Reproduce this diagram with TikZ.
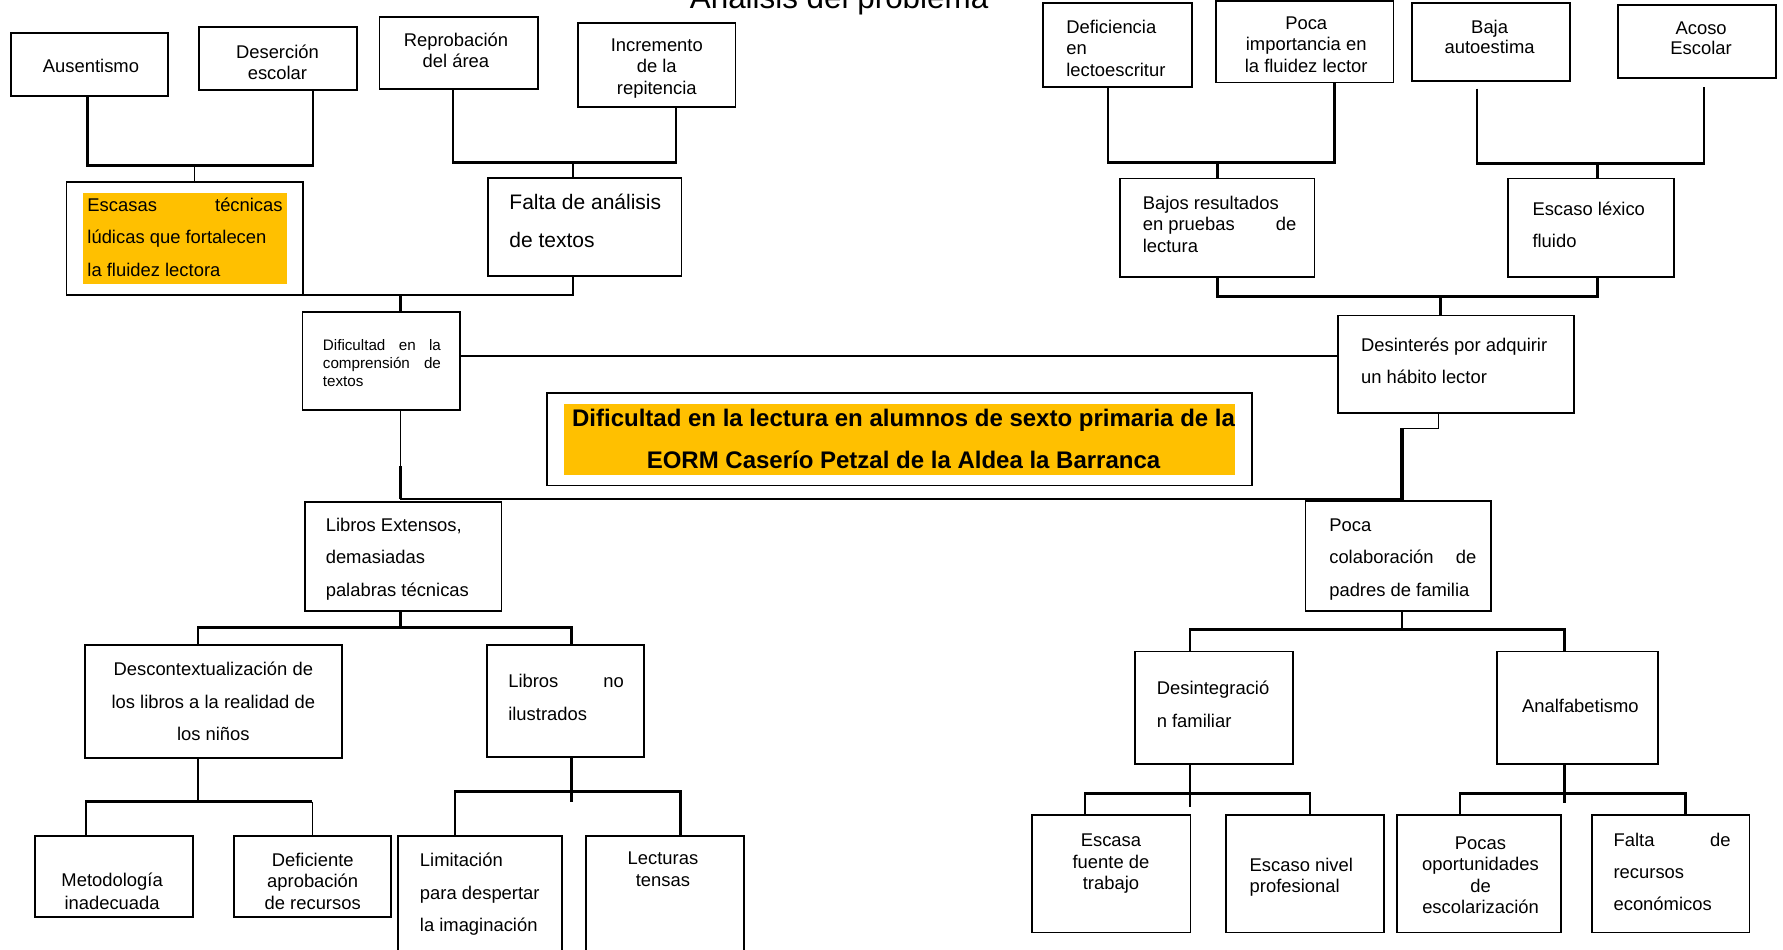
\documentclass[tikz,border=0pt]{standalone}
\usepackage{fontspec}
\setmainfont{Liberation Sans}
\definecolor{gold}{HTML}{FFC000}
\newcommand\fz[2]{\fontsize{#1pt}{#2pt}\selectfont}
\newcommand\jw[2]{\makebox[#1pt][s]{#2}}
\newcommand\jl[2]{\makebox[#1pt][l]{#2}}
\newcommand\bx[5]{%
  \pgfmathsetmacro\bxw{(#4-#2)*0.5686}%
  \pgfmathsetmacro\bxh{(#5-#3)*0.5686}%
  \node[box, minimum width=\bxw pt, minimum height=\bxh pt] (#1) at ({(#2+#4)/2},{(#3+#5)/2}) {};}
\tikzset{
  box/.style={draw, line width=0.9pt, inner sep=0pt, outer sep=0pt},
  conn/.style={line width=1.3pt},
  thinc/.style={line width=0.55pt},
  txt/.style={inner sep=0pt, outer sep=0pt, yshift=-1.6pt, execute at begin node=\strut, execute at end node=\strut},
  wd/.style={yshift=-1.3pt},
  tight/.style={font=\fz{9.2}{10.8}},
  wide/.style={font=\fz{9.2}{16.1}, wd},
}
\begin{document}
\begin{tikzpicture}[x=0.5686pt,y=-0.5686pt]
\useasboundingbox (0,0) rectangle (1568,835);
% orange fills
\fill[gold] (73,170) rectangle (252,249.5);
\fill[gold] (496,355) rectangle (1086.5,417.6);
% boxes
\bx{aus}{9.5}{29.3}{148}{84.2}
\bx{des}{175}{24}{313.8}{78.9}
\bx{rep}{333.8}{14.7}{473}{78.5}
\bx{inc}{508}{20.5}{646.8}{94.4}
\bx{esc}{58.5}{160}{266.6}{259.4}
\bx{fal}{429}{156.3}{599.4}{242.4}
\bx{def}{917.5}{2.4}{1048}{76.8}
\bx{poc}{1069.5}{0.8}{1225.5}{72.5}
\bx{baj}{1241.5}{2.4}{1380.5}{71}
\bx{aco}{1423}{4.7}{1562}{68.3}
\bx{bres}{985}{157}{1156}{243.5}
\bx{esl}{1326}{157}{1472}{243.5}
\bx{dif}{266}{274.6}{404.5}{360.3}
\bx{desi}{1176.5}{277.5}{1384}{363}
\bx{cen}{481}{345.8}{1101}{427}
\bx{lib}{268}{441.5}{441}{537.5}
\bx{pcol}{1148}{440.5}{1311}{537.5}
\bx{dsc}{75}{567.5}{301}{666.6}
\bx{lno}{428}{567.5}{566}{666}
\bx{met}{31}{735}{169.5}{806.7}
\bx{dap}{205.7}{735}{344}{806.7}
\bx{lim}{350}{735}{494}{850}
\bx{lec}{515}{735}{654}{850}
\bx{dsi}{998}{573}{1137}{672}
\bx{ana}{1316.5}{573}{1458}{672}
\bx{esf}{907.5}{717}{1047}{820}
\bx{esn}{1078.5}{717}{1217}{820}
\bx{poo}{1228.5}{717}{1373}{820}
\bx{frc}{1400}{717}{1538.5}{820}
% connectors top-left
\coordinate (j1a) at (77,145.3);
\coordinate (j1b) at (275.3,145.3);
\coordinate (j1c) at (170.7,145.3);
\draw[conn] (aus.south -| j1a) -- (j1a) -- (j1b) -- (des.south -| j1b);
\draw[thinc] (j1c) -- (esc.north -| j1c);
\coordinate (j2a) at (398.3,142.7);
\coordinate (j2b) at (594.6,142.7);
\coordinate (j2c) at (503.8,142.7);
\draw[conn] (rep.south -| j2a) -- (j2a) -- (j2b) -- (inc.south -| j2b);
\draw[conn] (j2c) -- (fal.north -| j2c);
\coordinate (j3a) at (170.7,259.4);
\coordinate (j3b) at (503.8,259.4);
\coordinate (j3c) at (352.2,259.4);
\draw[conn] (j3a) -- (j3b) -- (fal.south -| j3b);
\draw[conn] (j3c) -- (dif.north -| j3c);
% connectors top-right
\coordinate (j4a) at (974.5,142.8);
\coordinate (j4b) at (1173.5,142.8);
\coordinate (j4c) at (1070.5,142.8);
\draw[conn] (def.south -| j4a) -- (j4a) -- (j4b) -- (poc.south -| j4b);
\draw[conn] (j4c) -- (bres.north -| j4c);
\coordinate (j5a) at (1299,143.7);
\coordinate (j5b) at (1498.5,143.7);
\coordinate (j5c) at (1405,143.7);
\coordinate (bajE) at (1299,78);
\coordinate (acoE) at (1498.5,76.5);
\draw[conn] (bajE) -- (j5a) -- (j5b) -- (acoE);
\draw[conn] (j5c) -- (esl.north -| j5c);
\coordinate (j6a) at (1070.5,260.5);
\coordinate (j6b) at (1405,260.5);
\coordinate (j6c) at (1267,260.5);
\draw[conn] (bres.south -| j6a) -- (j6a) -- (j6b) -- (esl.south -| j6b);
\draw[conn] (j6c) -- (desi.north -| j6c);
% middle
\coordinate (hy) at (0,313);
\draw[line width=1pt] (dif.east |- hy) -- (desi.west |- hy);
\coordinate (j7a) at (352.2,439);
\coordinate (j7m) at (352.2,410);
\coordinate (j7b) at (1233,439);
\draw[thinc] (dif.south -| j7a) -- (j7m);
\draw[conn] (j7m) -- (j7a);
\draw[line width=0.75pt] (j7a) -- (j7b);
\coordinate (j8a) at (1265,376.6);
\coordinate (j8b) at (1233,376.6);
\draw[thinc] (desi.south -| j8a) -- (j8a) -- (j8b);
\draw[line width=1.6pt] (j8b) -- (pcol.north -| j8b);
% bottom-left
\coordinate (j9a) at (174,552);
\coordinate (j9b) at (502.5,552);
\coordinate (j9c) at (352,552);
\draw[conn] (lib.south -| j9c) -- (j9c);
\draw[conn] (dsc.north -| j9a) -- (j9a) -- (j9b) -- (lno.north -| j9b);
\coordinate (j10a) at (75.5,705);
\coordinate (j10b) at (274.5,705);
\coordinate (j10c) at (174,705);
\draw[conn] (dsc.south -| j10c) -- (j10c);
\draw[conn] (met.north -| j10a) -- (j10a) -- (j10b);
\draw[thinc] (j10b) -- (dap.north -| j10b);
\coordinate (j11a) at (400,696);
\coordinate (j11b) at (598.5,696);
\coordinate (j11c) at (502.5,705);
\draw[conn] (lno.south -| j11c) -- (j11c);
\draw[conn] (lim.north -| j11a) -- (j11a) -- (j11b) -- (lec.north -| j11b);
% bottom-right
\coordinate (j12a) at (1046.5,553.5);
\coordinate (j12b) at (1376,553.5);
\coordinate (j12c) at (1233,553.5);
\draw[conn] (pcol.south -| j12c) -- (j12c);
\draw[conn] (dsi.north -| j12a) -- (j12a) -- (j12b) -- (ana.north -| j12b);
\coordinate (j13a) at (954,698);
\coordinate (j13b) at (1152,698);
\coordinate (j13c) at (1046.5,709.5);
\draw[conn] (dsi.south -| j13c) -- (j13c);
\draw[conn] (esf.north -| j13a) -- (j13a) -- (j13b) -- (esn.north -| j13b);
\coordinate (j14a) at (1284,698);
\coordinate (j14b) at (1482,698);
\coordinate (j14c) at (1376,706);
\draw[conn] (ana.south -| j14c) -- (j14c);
\draw[conn] (poo.north -| j14a) -- (j14a) -- (j14b) -- (frc.north -| j14b);
% texts
\node[inner sep=0pt, font=\fz{15.7}{18}, anchor=base] (title) at (737.9,7.3) {Análisis del problema};
\node[txt,tight] (t-aus) at (80,57) {Ausentismo};
\node[txt,tight,align=center] (t-des) at (244,54.6) {Deserción\\escolar};
\node[txt,tight,align=center] (t-rep) at (401,44.3) {Reprobación\\del área};
\node[txt,tight,align=center] (t-inc) at (577.6,58.6) {Incremento\\de la\\repitencia};
\node[txt,wide,align=left,anchor=west] (t-esc) at (76.9,207.6) {\jw{97.6}{Escasas técnicas}\\lúdicas que fortalecen\\la fluidez lectora};
\node[txt,wd,font=\fz{10.5}{18.8},align=left,anchor=west] (t-fal) at (448,194) {Falta de análisis\\de textos};
\node[txt,tight,align=left,anchor=west] (t-def) at (937.7,42.5) {Deficiencia\\en\\lectoescritur};
\node[txt,tight,align=center] (t-poc) at (1148.7,39.3) {Poca\\importancia en\\la fluidez lector};
\node[txt,font=\fz{9.2}{10},align=center] (t-baj) at (1310,32.3) {Baja\\autoestima};
\node[txt,font=\fz{9.2}{10},align=center] (t-aco) at (1496,33.7) {Acoso\\Escolar};
\node[txt,tight,align=left,anchor=west] (t-bres) at (1005,197.1) {Bajos resultados\\\jl{76.8}{en pruebas\hfill de}\\lectura};
\node[txt,wd,font=\fz{9.2}{16.3},align=left,anchor=west] (t-esl) at (1347.7,196.7) {Escaso léxico\\fluido};
\node[txt,font=\fz{7.6}{9.2},align=left,anchor=west] (t-dif) at (284,318.8) {\jw{59}{Dificultad en la}\\\jw{59}{comprensión de}\\textos};
\node[txt,wd,font=\fz{9.2}{16.3},align=left,anchor=west] (t-desi) at (1197,316.4) {Desinterés por adquirir\\un hábito lector};
\node[txt,wd,font=\fz{12}{21.2}\bfseries,align=center] (t-cen) at (794.6,386.5) {Dificultad en la lectura en alumnos de sexto primaria de la\\EORM Caserío Petzal de la Aldea la Barranca};
\node[txt,wide,align=left,anchor=west] (t-lib) at (286.5,489.1) {Libros Extensos,\\demasiadas\\palabras técnicas};
\node[txt,wide,align=left,anchor=west] (t-pcol) at (1169,489.5) {Poca\\\jl{73.5}{colaboración\hfill de}\\padres de familia};
\node[txt,wide,align=center] (t-dsc) at (187.6,615.9) {Descontextualización de\\los libros a la realidad de\\los niños};
\node[txt,wd,font=\fz{9.2}{16.7},align=left,anchor=west] (t-lno) at (447,612.6) {\jw{57.8}{Libros no}\\ilustrados};
\node[txt,font=\fz{9.2}{11.3},align=center] (t-met) at (98.6,784) {Metodología\\inadecuada};
\node[txt,tight,align=center] (t-dap) at (275,774.8) {Deficiente\\aprobación\\de recursos};
\node[txt,wide,align=left,anchor=west] (t-lim) at (369.3,783.8) {Limitación\\para despertar\\la imaginación};
\node[txt,tight,align=center] (t-lec) at (583,764.3) {Lecturas\\tensas};
\node[txt,wd,font=\fz{9.2}{16.7},align=left,anchor=west] (t-dsi) at (1017.3,618.5) {Desintegració\\n familiar};
\node[txt,tight] (t-ana) at (1389.8,620) {Analfabetismo};
\node[txt,tight,align=center] (t-esf) at (977,757.8) {Escasa\\fuente de\\trabajo};
\node[txt,font=\fz{9.2}{10.4},align=left,anchor=west] (t-esn) at (1099,769.8) {Escaso nivel\\profesional};
\node[txt,tight,align=center] (t-poo) at (1302,769.7) {Pocas\\oportunidades\\de\\escolarización};
\node[txt,wide,align=left,anchor=west] (t-frc) at (1419,765.6) {\jw{58.5}{Falta de}\\recursos\\económicos};
\end{tikzpicture}
\end{document}
